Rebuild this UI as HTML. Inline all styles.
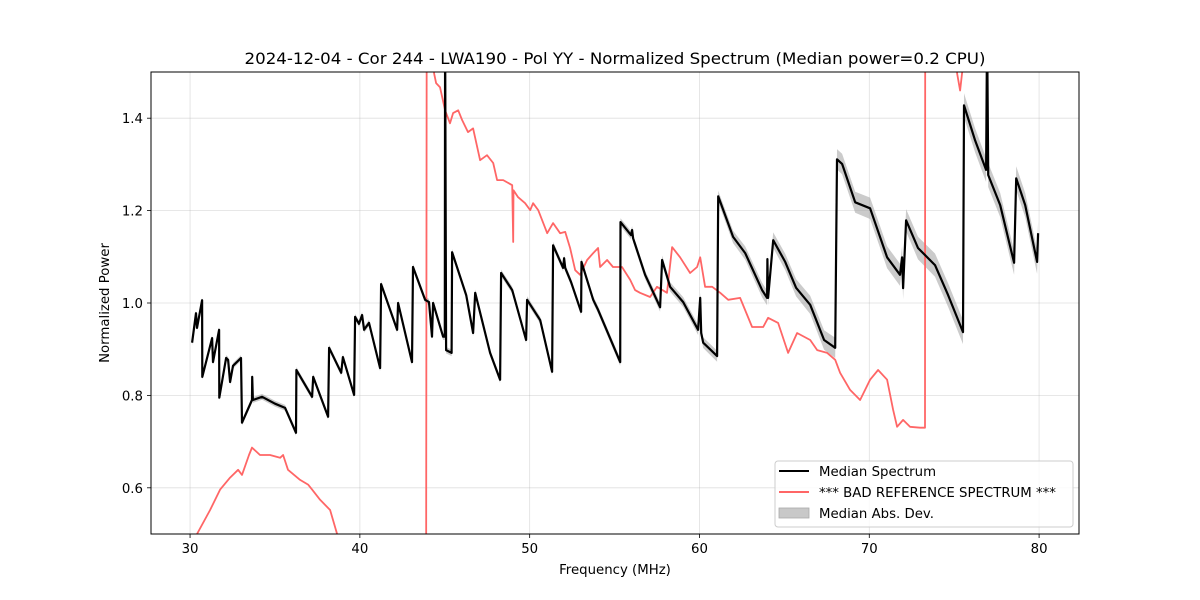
<!DOCTYPE html>
<html><head><meta charset="utf-8"><style>
html,body{margin:0;padding:0;background:#fff;}
svg{display:block;font-family:"DejaVu Sans","Liberation Sans",sans-serif;}
</style></head><body>
<svg id="chart" width="1200" height="600" viewBox="0 0 1200 600" xmlns="http://www.w3.org/2000/svg">
<defs><clipPath id="plotclip"><rect x="151" y="72" width="928" height="462"/></clipPath></defs>
<rect width="1200" height="600" fill="#fff"/>
<text x="615" y="64" text-anchor="middle" font-size="16" textLength="741" lengthAdjust="spacingAndGlyphs" fill="#000">2024-12-04 - Cor 244 - LWA190 - Pol YY - Normalized Spectrum (Median power=0.2 CPU)</text>
<g id="grid"></g>
<g id="series" clip-path="url(#plotclip)"></g>
<rect x="151" y="72" width="928" height="462" fill="none" stroke="#000" stroke-width="1"/>
<g id="axes"></g>
<text x="615" y="574" text-anchor="middle" font-size="13.3">Frequency (MHz)</text>
<text x="109" y="303" text-anchor="middle" font-size="13.3" transform="rotate(-90 109 303)">Normalized Power</text>
<g>
<rect x="775" y="461" width="298" height="66" rx="3" fill="#fff" fill-opacity="0.8" stroke="#ccc"/>
<line x1="779" y1="471" x2="809" y2="471" stroke="#000" stroke-width="2"/>
<text x="819" y="476" font-size="13.3">Median Spectrum</text>
<line x1="779" y1="492" x2="809" y2="492" stroke="#ff6666" stroke-width="2"/>
<text x="819" y="497" font-size="13.3">*** BAD REFERENCE SPECTRUM ***</text>
<rect x="779" y="508" width="30" height="10" fill="#c8c8c8" stroke="#aaa" stroke-width="0.8"/>
<text x="819" y="518" font-size="13.3">Median Abs. Dev.</text>
</g>
</svg>
<script>
const xTicks=[30,40,50,60,70,80];
const yTicks=[0.6,0.8,1.0,1.2,1.4];
const yTickLabels=["0.6","0.8","1.0","1.2","1.4"];
const medFreq=[30.12,30.35,30.41,30.71,30.72,31.3,31.35,31.71,31.72,32.12,32.24,32.36,32.53,33.0,33.06,33.65,33.66,33.7,34.24,35.0,35.6,36.24,36.26,37.19,37.25,38.13,38.19,38.9,39.0,39.66,39.72,39.95,40.13,40.25,40.54,41.19,41.25,42.19,42.25,43.07,43.13,43.84,44.07,44.25,44.31,44.9,45.0,45.02,45.08,45.4,45.43,46.26,46.67,46.79,47.67,48.26,48.32,48.97,49.79,49.85,50.62,51.32,51.38,51.97,52.03,52.09,52.44,53.03,53.05,53.74,54.03,55.33,55.35,55.97,56.03,56.09,56.8,57.68,57.8,58.27,59.04,59.92,60.04,60.1,60.22,61.04,61.1,61.98,62.69,63.69,63.98,64.0,64.04,64.34,65.05,65.69,66.52,67.34,67.99,68.1,68.4,69.17,70.05,71.05,71.81,71.93,71.99,72.17,72.87,73.87,74.64,75.52,75.58,76.23,76.88,76.94,77.0,77.71,78.53,78.65,79.18,79.88,79.94];
const medVal=[0.914,0.978,0.946,1.006,0.84,0.924,0.872,0.942,0.795,0.881,0.877,0.829,0.864,0.881,0.741,0.79,0.84,0.79,0.797,0.782,0.773,0.719,0.855,0.797,0.84,0.754,0.903,0.849,0.883,0.801,0.97,0.955,0.974,0.942,0.957,0.859,1.041,0.942,1.0,0.872,1.078,1.007,1.002,0.927,1.0,0.927,0.927,1.6,0.898,0.892,1.11,1.017,0.935,1.022,0.892,0.834,1.065,1.028,0.92,1.007,0.963,0.851,1.125,1.076,1.097,1.076,1.045,0.981,1.089,1.007,0.985,0.872,1.175,1.147,1.158,1.14,1.061,0.991,1.093,1.035,1.002,0.942,1.011,0.935,0.914,0.885,1.231,1.143,1.108,1.028,1.011,1.095,1.011,1.136,1.089,1.033,0.996,0.92,0.903,1.311,1.301,1.218,1.205,1.099,1.061,1.099,1.032,1.179,1.119,1.082,1.017,0.937,1.428,1.352,1.288,1.6,1.277,1.212,1.087,1.27,1.212,1.089,1.151];
const madFreq=[30,45,55,61,68,75.5,80];
const madVal=[0.006,0.007,0.008,0.012,0.022,0.026,0.026];
const refFreq=[30.0,30.41,31.18,31.77,32.36,32.83,33.06,33.47,33.65,34.12,34.71,35.3,35.48,35.77,36.48,36.95,37.19,37.66,38.25,38.66,39.13,43.55,43.9,43.95,44.37,44.49,44.72,45.02,45.31,45.49,45.79,46.02,46.37,46.67,47.08,47.49,47.85,48.08,48.44,48.97,49.03,49.05,49.32,49.73,50.03,50.2,50.5,51.03,51.38,51.79,52.09,52.38,52.68,52.97,53.38,53.74,54.03,54.15,54.56,54.91,55.44,55.92,56.21,56.5,57.09,57.5,58.09,58.39,58.86,59.45,59.86,60.04,60.33,60.75,61.22,61.69,62.39,63.1,63.75,64.04,64.63,65.22,65.75,66.52,66.93,67.52,67.99,68.28,68.87,69.46,70.05,70.52,71.05,71.4,71.64,71.99,72.4,72.99,73.28,73.3,74.75,75.17,75.35,75.47,76.0,80.0];
const refVal=[0.487,0.5,0.552,0.596,0.622,0.639,0.628,0.671,0.687,0.671,0.671,0.665,0.671,0.639,0.617,0.607,0.596,0.574,0.552,0.5,0.444,0.36,0.36,2.0,1.497,1.476,1.467,1.417,1.389,1.411,1.417,1.396,1.37,1.378,1.309,1.32,1.303,1.266,1.266,1.255,1.132,1.244,1.229,1.216,1.201,1.216,1.201,1.151,1.173,1.151,1.154,1.119,1.071,1.061,1.093,1.108,1.119,1.078,1.093,1.078,1.078,1.05,1.028,1.022,1.013,1.035,1.022,1.121,1.099,1.065,1.078,1.099,1.035,1.035,1.022,1.007,1.011,0.948,0.948,0.968,0.957,0.892,0.935,0.92,0.898,0.892,0.877,0.849,0.812,0.79,0.834,0.855,0.834,0.769,0.732,0.747,0.732,0.73,0.73,2.0,2.0,1.497,1.46,1.5,2.0,2.0];

const NS="http://www.w3.org/2000/svg";
const X0=151,X1=1079,Y0=72,Y1=534,XMIN=27.7,XMAX=82.35,YMIN=0.5,YMAX=1.5;
function xs(f){return X0+(f-XMIN)/(XMAX-XMIN)*(X1-X0);}
function ys(v){return Y1-(v-YMIN)/(YMAX-YMIN)*(Y1-Y0);}
function mk(tag,attrs,parent){const e=document.createElementNS(NS,tag);for(const k in attrs)e.setAttribute(k,attrs[k]);parent.appendChild(e);return e;}
function madAt(f){for(let i=1;i<madFreq.length;i++){if(f<=madFreq[i]){const t=(f-madFreq[i-1])/(madFreq[i]-madFreq[i-1]);return madVal[i-1]+t*(madVal[i]-madVal[i-1]);}}return madVal[madVal.length-1];}

const grid=document.getElementById('grid'),axes=document.getElementById('axes'),series=document.getElementById('series');
xTicks.forEach(t=>{
  const g=mk('line',{x1:xs(t),x2:xs(t),y1:Y0,y2:Y1,stroke:'#b0b0b0','stroke-opacity':0.4,'stroke-width':0.8},grid);
  
  
  const tk=mk('line',{x1:xs(t),x2:xs(t),y1:Y1,y2:Y1+4,stroke:'#000','stroke-width':0.8},axes);
  
  
  const tx=mk('text',{x:xs(t),y:Y1+19,'text-anchor':'middle','font-size':13.3},axes);
  
  
  tx.textContent=t;
});
yTicks.forEach((t,i)=>{
  const g=mk('line',{x1:X0,x2:X1,y1:ys(t),y2:ys(t),stroke:'#b0b0b0','stroke-opacity':0.4,'stroke-width':0.8},grid);
  
  
  const tk=mk('line',{x1:X0-4,x2:X0,y1:ys(t),y2:ys(t),stroke:'#000','stroke-width':0.8},axes);
  
  
  const tx=mk('text',{x:X0-8,y:ys(t)+5,'text-anchor':'end','font-size':13.3},axes);
  
  
  tx.textContent=yTickLabels[i];
});
let up=[],dn=[];
medFreq.forEach((f,i)=>{const m=madAt(f);up.push(xs(f).toFixed(1)+','+ys(medVal[i]+m).toFixed(1));dn.push(xs(f).toFixed(1)+','+ys(medVal[i]-m).toFixed(1));});
const band=mk('polygon',{points:up.concat(dn.reverse()).join(' '),fill:'#a0a0a0','fill-opacity':0.55,stroke:'none'},series);


const ref=mk('polyline',{points:refFreq.map((f,i)=>xs(f).toFixed(1)+','+ys(refVal[i]).toFixed(1)).join(' '),fill:'none',stroke:'#ff6666','stroke-width':1.8,'stroke-linejoin':'round'},series);


const med=mk('polyline',{points:medFreq.map((f,i)=>xs(f).toFixed(1)+','+ys(medVal[i]).toFixed(1)).join(' '),fill:'none',stroke:'#000','stroke-width':2.2,'stroke-linejoin':'round'},series);


</script>
</body></html>
